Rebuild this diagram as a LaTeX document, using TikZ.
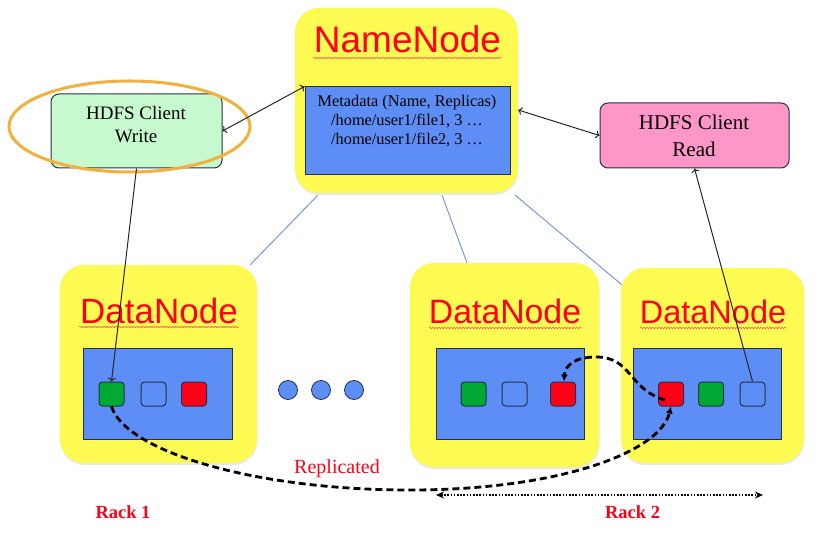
\documentclass[tikz,border=0pt]{standalone}
\usepackage{fontspec}
\setmainfont{Liberation Serif}
\newfontfamily\arialf{Liberation Sans}
\usetikzlibrary{shapes.geometric,arrows.meta,decorations.pathmorphing,shadows,backgrounds}
\definecolor{ylw}{RGB}{253,250,82}
\definecolor{blu}{RGB}{93,142,245}
\definecolor{grn}{RGB}{0,168,52}
\definecolor{rd}{RGB}{255,0,22}
\definecolor{palegrn}{RGB}{198,250,206}
\definecolor{pnk}{RGB}{255,150,200}
\definecolor{orng}{RGB}{245,176,60}
\definecolor{lineblu}{RGB}{120,150,220}
\definecolor{edge}{RGB}{40,48,70}
\begin{document}
\begin{tikzpicture}[x=1pt,y=-1pt,
  ybox/.style={rectangle, rounded corners=24pt, fill=ylw, draw=none, inner sep=0pt,
    drop shadow={opacity=0.18, shadow xshift=0.5pt, shadow yshift=-2pt}},
  innerbox/.style={rectangle, fill=blu, draw=edge, line width=1pt, inner sep=0pt},
  sq/.style={rectangle, rounded corners=3.5pt, draw=edge, line width=1pt, minimum width=25pt, minimum height=24pt, inner sep=0pt},
  clientbox/.style={rectangle, rounded corners=8pt, draw=edge, line width=1pt, inner sep=0pt},
  title/.style={anchor=base, text=rd, inner sep=0pt},
  txt/.style={anchor=base, inner sep=0pt},
  wavy/.style={draw=rd!70, line width=0.5pt, decorate, decoration={snake, amplitude=0.7pt, segment length=3pt}},
  link/.style={draw=lineblu, line width=1pt},
  arr/.style={draw=black!85, line width=1pt},
  dashcurve/.style={draw=black, line width=2.8pt, dash pattern=on 7pt off 4pt, -{Latex[length=7pt,width=7pt]}},
  dot/.style={circle, fill=blu, draw=edge, line width=0.8pt, minimum size=19pt, inner sep=0pt}
]
\useasboundingbox (0,0) rectangle (818,537);

% NameNode
\node[ybox, minimum width=223pt, minimum height=185pt] (nn) at (406.5,100.5) {};
\node[title, font=\arialf\fontsize{37}{40}\selectfont] (nnt) at (407.5,53) {NameNode};
\draw[wavy] (313,58) -- (502,58);
\node[innerbox, minimum width=205pt, minimum height=88pt] (meta) at (407.5,131) {};
\node[txt, font=\fontsize{16.3}{19}\selectfont] (m1) at (407,107) {Metadata (Name, Replicas)};
\node[txt, font=\fontsize{16.3}{19}\selectfont] (m2) at (407,126) {/home/user1/file1, 3 …};
\node[txt, font=\fontsize{16.3}{19}\selectfont] (m3) at (407,145) {/home/user1/file2, 3 …};

% Clients
\node[clientbox, fill=palegrn, minimum width=171pt, minimum height=74pt] (write) at (136.5,131) {};
\node[txt, font=\fontsize{19}{22}\selectfont] (w1) at (136,120) {HDFS Client};
\node[txt, font=\fontsize{19}{22}\selectfont] (w2) at (136,143) {Write};
\node[ellipse, draw=orng, line width=3pt, minimum width=241pt, minimum height=91pt, inner sep=0pt] (ring) at (129.5,126.5) {};

\node[clientbox, fill=pnk, minimum width=189pt, minimum height=65pt] (read) at (694.5,135.5) {};
\node[txt, font=\fontsize{21}{24}\selectfont] (r1) at (694,130) {HDFS Client};
\node[txt, font=\fontsize{21}{24}\selectfont] (r2t) at (694,157) {Read};

% DataNodes
\node[ybox, minimum width=197pt, minimum height=198pt] (dn1) at (158.5,364) {};
\node[ybox, minimum width=189pt, minimum height=204pt] (dn2) at (504.5,365) {};
\node[ybox, minimum width=183pt, minimum height=195pt] (dn3) at (712.5,365.5) {};

\node[title, font=\arialf\fontsize{35}{38}\selectfont] (d1t) at (159,323) {DataNode};
\node[title, font=\arialf\fontsize{33.8}{37}\selectfont] (d2t) at (505,323) {DataNode};
\node[title, font=\arialf\fontsize{32.5}{36}\selectfont] (d3t) at (713,323) {DataNode};
\draw[wavy] (79,327) -- (239,327);
\draw[wavy] (429,328) -- (581,328);
\draw[wavy] (640,328) -- (786,328);

\node[innerbox, minimum width=149pt, minimum height=91pt] (in1) at (157.5,393.5) {};
\node[innerbox, minimum width=148pt, minimum height=91pt] (in2) at (510,393.5) {};
\node[innerbox, minimum width=148pt, minimum height=91pt] (in3) at (707,393.5) {};

\node[sq, fill=grn] (g1) at (111.5,394) {};
\node[sq, fill=blu] (b1) at (153.5,394) {};
\node[sq, fill=rd]  (r1s) at (194,394) {};
\node[sq, fill=grn] (g2) at (473.5,394) {};
\node[sq, fill=blu] (b2) at (514.5,394) {};
\node[sq, fill=rd]  (r2s) at (563,394) {};
\node[sq, fill=rd]  (r3s) at (671,394) {};
\node[sq, fill=grn] (g3) at (711,394) {};
\node[sq, fill=blu] (b3) at (752.5,394) {};

\node[dot] (dot1) at (288,390) {};
\node[dot] (dot2) at (321,390) {};
\node[dot] (dot3) at (354,390) {};

% thin links NameNode - DataNodes
\begin{scope}[on background layer]
\draw[link] ([xshift=23pt,yshift=-2pt]nn.south west) -- ([xshift=-7pt]dn1.north east);
\draw[link] ([xshift=35.5pt,yshift=-2pt]nn.south) -- ([xshift=-37.5pt]dn2.north);
\draw[link] ([xshift=-3pt,yshift=-2pt]nn.south east) -- ([xshift=1pt,yshift=-17pt]dn3.north west);
\end{scope}

% client arrows
\draw[arr, <->] (write.east) -- (meta.north west);
\draw[arr, <->] ([yshift=-9.5pt]nn.east) -- (read.west);
\draw[arr, ->] (write.south) -- (g1.north);
\draw[arr, ->] (b3.north) -- (read.south);

% replication
\draw[dashcurve] (g1.south) .. controls (125,450) and (250,490) .. (410,490)
  .. controls (560,490) and (660,452) .. (r3s.south);
\draw[dashcurve] ([xshift=-6pt,yshift=-6pt]r3s.center) .. controls (628,389) and (632,357) .. (596,357)
  .. controls (574,357) and (565,366) .. ([xshift=1pt]r2s.north);

\node[txt, text=rd, font=\fontsize{20}{23}\selectfont] (repl) at (337,473) {Replicated};

% rack span
\coordinate (ra) at (436,495);
\coordinate (rb) at (763,495);
\draw[line width=2.6pt, dash pattern=on 1.6pt off 1.6pt, {Stealth[length=8pt,width=7pt]}-{Stealth[length=8pt,width=7pt]}] (ra) -- (rb);

\node[txt, text=rd, font=\bfseries\fontsize{18.5}{21}\selectfont] (rack1) at (123,518) {Rack 1};
\node[txt, text=rd, font=\bfseries\fontsize{18.5}{21}\selectfont] (rack2) at (632.5,518) {Rack 2};
\end{tikzpicture}
\end{document}
